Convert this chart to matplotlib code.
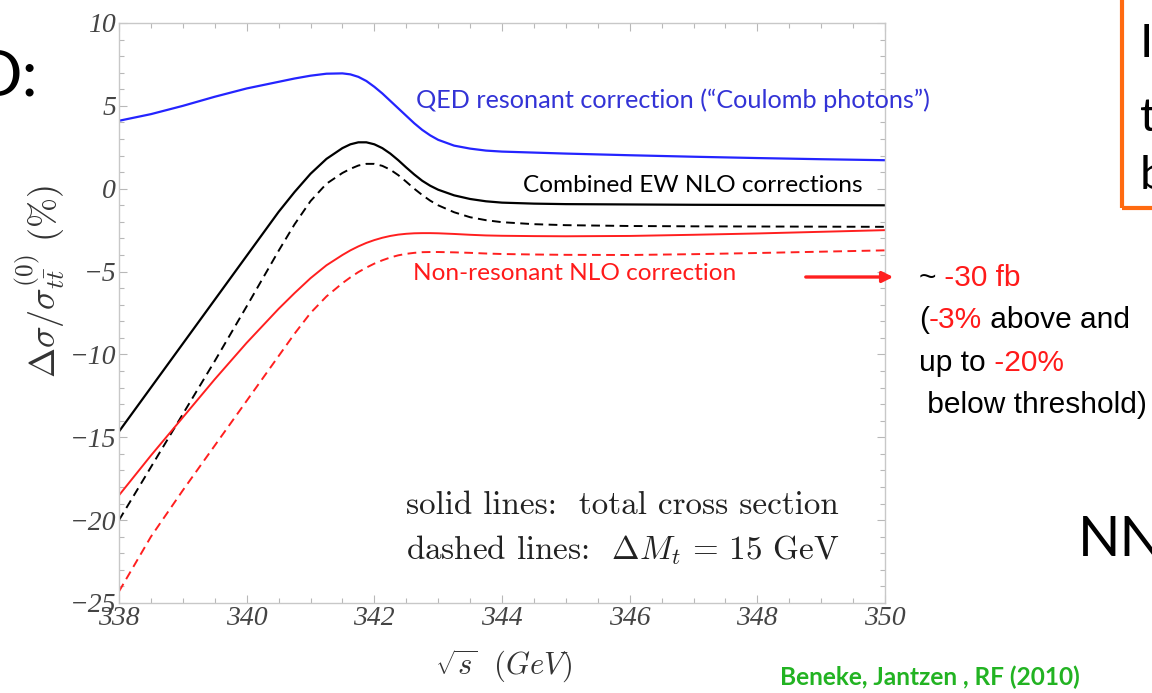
import matplotlib
matplotlib.use("Agg")
import matplotlib.pyplot as plt
from matplotlib.ticker import MultipleLocator
from matplotlib.patches import FancyArrowPatch, Rectangle

# ---- data: relative corrections (%) vs sqrt(s) (GeV) ----
sqrt_s = [338, 338.5, 339, 339.5, 340, 340.5, 340.75, 341, 341.25, 341.5, 341.625,
          341.75, 341.875, 342, 342.125, 342.25, 342.375, 342.5, 342.625, 342.75,
          342.875, 343, 343.25, 343.5, 343.75, 344, 344.5, 345, 346, 347, 348, 349, 350]

qed_resonant = [4.10, 4.50, 5.00, 5.55, 6.05, 6.45, 6.65, 6.82, 6.94, 6.96, 6.90,
                6.75, 6.50, 6.15, 5.75, 5.30, 4.85, 4.40, 3.95, 3.55,
                3.22, 2.95, 2.60, 2.42, 2.30, 2.24, 2.18, 2.12, 2.02, 1.93, 1.85, 1.78, 1.72]

ew_combined = [-14.65, -12.0, -9.35, -6.7, -4.05, -1.4, -0.2, 0.9, 1.8, 2.45, 2.68,
               2.80, 2.80, 2.68, 2.45, 2.12, 1.72, 1.28, 0.86, 0.48,
               0.18, -0.06, -0.40, -0.62, -0.76, -0.84, -0.90, -0.93, -0.95, -0.97, -0.98, -0.99, -1.0]

ew_combined_cut = [-20.0, -16.8, -13.6, -10.4, -7.1, -3.75, -2.15, -0.75, 0.3, 0.95, 1.2,
                   1.4, 1.5, 1.5, 1.38, 1.15, 0.82, 0.42, 0.0, -0.38,
                   -0.72, -1.0, -1.42, -1.72, -1.9, -2.02, -2.14, -2.2, -2.25, -2.27, -2.28, -2.29, -2.3]

nonres = [-18.5, -16.1, -13.8, -11.5, -9.3, -7.25, -6.3, -5.4, -4.62, -4.0, -3.72,
          -3.48, -3.27, -3.1, -2.96, -2.85, -2.77, -2.72, -2.69, -2.68,
          -2.68, -2.69, -2.73, -2.78, -2.82, -2.84, -2.86, -2.87, -2.85, -2.78, -2.70, -2.60, -2.5]

nonres_cut = [-24.3, -21.0, -18.2, -15.5, -12.8, -10.1, -8.75, -7.5, -6.5, -5.7, -5.35,
              -5.03, -4.76, -4.52, -4.32, -4.15, -4.02, -3.93, -3.87, -3.83,
              -3.82, -3.82, -3.84, -3.87, -3.91, -3.94, -3.97, -3.99, -4.0, -3.95, -3.88, -3.8, -3.72]

x_ticks = [338, 340, 342, 344, 346, 348, 350]
y_ticks = [-25, -20, -15, -10, -5, 0, 5, 10]

# ---- figure ----
W, H = 1152, 693
fig = plt.figure(figsize=(W / 100, H / 100), dpi=100)


def fx(px):
    return px / W


def fy(py):
    return 1 - py / H


ax = fig.add_axes([fx(119), fy(603), (885 - 119) / W, (603 - 23) / H])

BLUE = "#2424ff"
RED = "#ff1f1f"
TXT_RED = "#ff1a1a"

ax.plot(sqrt_s, qed_resonant, color=BLUE, lw=1.6)
ax.plot(sqrt_s, ew_combined, color="black", lw=1.6)
ax.plot(sqrt_s, ew_combined_cut, color="black", lw=1.4, dashes=(4.5, 2.8))
ax.plot(sqrt_s, nonres, color=RED, lw=1.4)
ax.plot(sqrt_s, nonres_cut, color=RED, lw=1.4, dashes=(4.5, 2.8))

ax.set_xlim(338, 350)
ax.set_ylim(-25, 10)
ax.set_xticks(x_ticks)
ax.set_yticks(y_ticks)
tick_font = dict(family="Liberation Serif", style="italic", size=20, color="#444444")
ax.set_xticklabels([str(v) for v in x_ticks], fontdict=tick_font)
ax.set_yticklabels([str(v).replace("-", "\u2212") for v in y_ticks], fontdict=tick_font)
ax.xaxis.set_minor_locator(MultipleLocator(0.5))
ax.yaxis.set_minor_locator(MultipleLocator(1))
ax.tick_params(which="both", direction="in", top=True, right=True,
               color="#b8b8b8", width=0.8)
ax.tick_params(which="major", length=6)
ax.tick_params(which="minor", length=3.5)
ax.tick_params(axis="x", pad=2)
ax.tick_params(axis="y", pad=2)
for s in ax.spines.values():
    s.set_color("#c8c8c8")
    s.set_linewidth(1.0)

# axis titles
fig.text(fx(40), fy(281), r"$\Delta\sigma/\sigma^{(0)}_{t\bar{t}}\ (\%)$", rotation=90,
         ha="center", va="center", fontsize=26, math_fontfamily="cm", color="#333333")
fig.text(fx(504), fy(666), r"$\sqrt{s}\ \ (GeV)$", ha="center", va="center",
         fontsize=22, math_fontfamily="cm", color="#333333")

# curve labels
fig.text(fx(416), fy(100), "QED resonant correction (\u201cCoulomb photons\u201d)",
         family="Lato", fontsize=18.2, color="#3333d6", va="center", ha="left")
fig.text(fx(523), fy(185), "Combined EW NLO corrections",
         family="Lato", fontsize=17.6, color="black", va="center", ha="left")
fig.text(fx(413), fy(273), "Non-resonant NLO correction",
         family="Lato", fontsize=17.6, color=TXT_RED, va="center", ha="left")

# line-style legend
fig.text(fx(406), fy(505), "solid lines:  total cross section", family="cmr10",
         fontsize=23.8, color="#222222", va="center", ha="left")
fig.text(fx(406), fy(550), r"dashed lines:  $\Delta M_t\,=\,15$ GeV", family="cmr10",
         math_fontfamily="cm", fontsize=23.8, color="#222222", va="center", ha="left")

# arrow and side note
fig.add_artist(FancyArrowPatch((fx(803), fy(277)), (fx(896), fy(277)),
                               transform=fig.transFigure, arrowstyle="-|>",
                               mutation_scale=16, color=RED, lw=2.4))

renderer = fig.canvas.get_renderer()


def colored_line(x0, y0, parts, **kw):
    x = x0
    for s, c in parts:
        t = fig.text(fx(x), fy(y0), s, color=c, ha="left", va="center", **kw)
        bb = t.get_window_extent(renderer)
        x = bb.x1


note_font = dict(family="Liberation Sans", fontsize=21.5)
colored_line(919, 278, [("~", "black"), (" -30 fb", TXT_RED)], **note_font)
colored_line(919, 320, [("(", "black"), ("-3%", TXT_RED), (" above and", "black")], **note_font)
colored_line(919, 363, [("up to", "black"), (" -20%", TXT_RED)], **note_font)
colored_line(919, 405, [(" below threshold)", "black")], **note_font)

# reference
fig.text(fx(780), fy(677), "Beneke, Jantzen , RF (2010)", family="Lato",
         weight="bold", fontsize=17.6, color="#22b322", va="center", ha="left")

# surrounding slide content
fig.text(fx(38), fy(77), "D:", family="Lato", fontsize=46, color="black",
         ha="right", va="center")
fig.text(fx(1078), fy(540), "NN", family="Lato", fontsize=40, color="black",
         ha="left", va="center")
fig.add_artist(Rectangle((fx(1122), fy(208)), (1200 - 1122) / W, (208 + 20) / H,
                         transform=fig.transFigure, fill=False,
                         edgecolor="#ff6a10", lw=3))
for letter, yy in [("I", 44), ("t", 118), ("b", 176)]:
    fig.text(fx(1140), fy(yy), letter, family="Lato", fontsize=34, color="black",
             ha="left", va="center")

fig.savefig("out.png", dpi=100, facecolor="white")
